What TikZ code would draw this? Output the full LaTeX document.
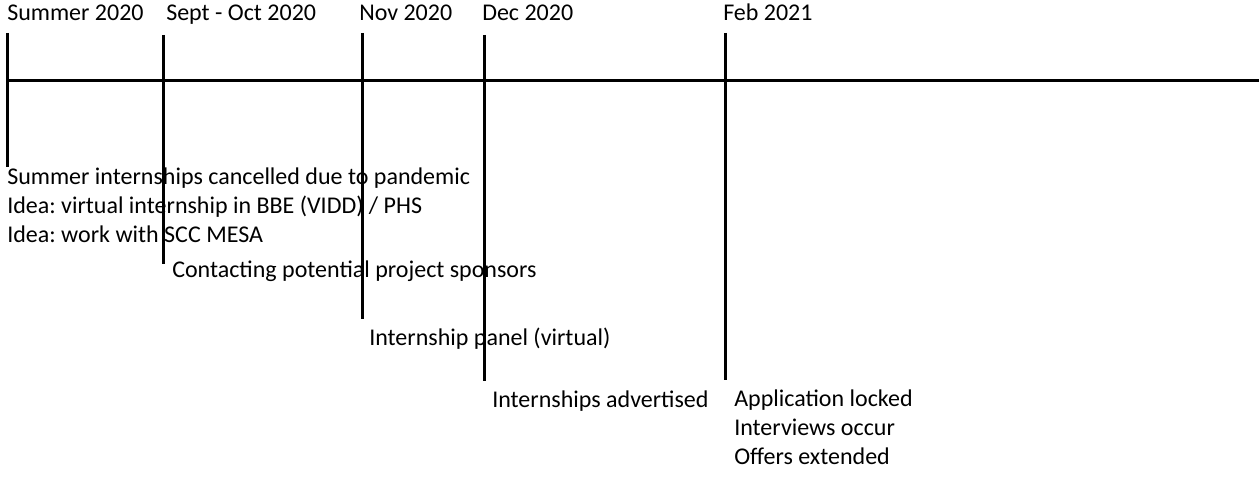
\documentclass[tikz,border=0pt]{standalone}
\usepackage{fontspec}
\setmainfont{Carlito}
\usetikzlibrary{positioning}
\frenchspacing

\begin{document}
\begin{tikzpicture}[x=0.75pt, y=-0.75pt,
  fecha/.style={anchor=base west, inner sep=0pt, font=\fontsize{18}{21.75}\selectfont},
  evento/.style={anchor=base west, inner sep=0pt, align=left,
    font=\fontsize{18}{21.75}\selectfont},
  eje/.style={line width=2.25pt},
  marca/.style={line width=2.25pt}
]
\useasboundingbox (0,0) rectangle (1259,488);

% eje del tiempo
\coordinate (ejeI) at (6,81);
\coordinate (ejeD) at (1259,81);
\draw[eje] (ejeI) -- (ejeD);

% marcas
\coordinate (m1a) at (7,33);   \coordinate (m1b) at (7,167);
\coordinate (m2a) at (163,35); \coordinate (m2b) at (163,264);
\coordinate (m3a) at (362,33); \coordinate (m3b) at (362,319);
\coordinate (m4a) at (484,35); \coordinate (m4b) at (484,381);
\coordinate (m5a) at (725,33); \coordinate (m5b) at (725,380);
\draw[marca] (m1a) -- (m1b);
\draw[marca] (m2a) -- (m2b);
\draw[marca] (m3a) -- (m3b);
\draw[marca] (m4a) -- (m4b);
\draw[marca] (m5a) -- (m5b);

% fechas
\node[fecha] (f1) at (7,21) {Summer 2020};
\node[fecha] (f2) at (166,21) {Sept - Oct 2020};
\node[fecha] (f3) at (359,21) {Nov 2020};
\node[fecha] (f4) at (482,21) {Dec 2020};
\node[fecha] (f5) at (723,21) {Feb 2021};

% eventos (base = ultima linea)
\node[evento] (e1) at (7,243) {Summer internships cancelled due to pandemic\\
  Idea: virtual internship in BBE (VIDD) / PHS\\
  Idea: work with SCC MESA};
\node[evento] (e2) at (172,277) {Contacting potential project sponsors};
\node[evento] (e3) at (369,345) {Internship panel (virtual)};
\node[evento] (e4) at (492,407) {Internships advertised};
\node[evento] (e5) at (734,464) {Application locked\\
  Interviews occur\\
  Offers extended};
\end{tikzpicture}
\end{document}
